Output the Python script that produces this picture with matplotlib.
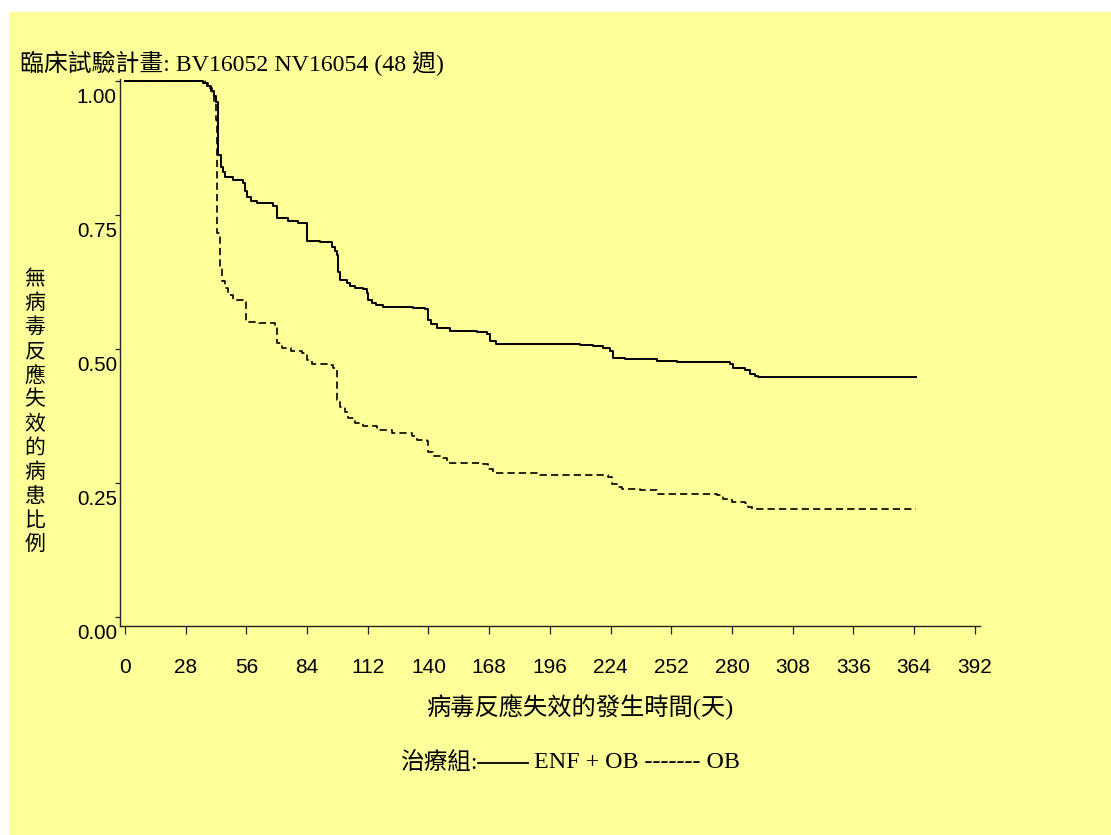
import matplotlib
matplotlib.use('Agg')
import matplotlib.pyplot as plt
from matplotlib.patches import Rectangle
from matplotlib.lines import Line2D
from matplotlib.transforms import blended_transform_factory, ScaledTranslation

# ---------------- data ----------------
title = "臨床試驗計畫: BV16052 NV16054 (48 週)"
ylabel = "無病毒反應失效的病患比例"
xlabel = "病毒反應失效的發生時間(天)"
legend_prefix = "治療組:"
legend_rest = " ENF + OB ------- OB"

x_ticks = [0, 28, 56, 84, 112, 140, 168, 196, 224, 252, 280, 308, 336, 364, 392]
y_ticks = [0.0, 0.25, 0.50, 0.75, 1.00]
y_tick_labels = ["0.00", "0.25", "0.50", "0.75", "1.00"]

enf_t = [0, 36.0, 38.0, 39.5, 41.0, 42.0, 43.0, 44.1, 45.0, 46.1, 50.0, 54.6, 55.5, 56.1,
         58.0, 60.7, 68.4, 70.0, 75.0, 80.0, 84.0, 90.0, 95.5, 96.9, 97.9, 98.4, 99.2,
         102.3, 104.0, 106.1, 109.9, 111.5, 112.2, 113.8, 116.0, 119.2, 133.0, 138.4,
         139.9, 141.0, 143.8, 149.9, 162.2, 166.8, 168.4, 171.0, 209.9, 216.0, 220.6,
         223.7, 225.0, 230.6, 245.3, 254.5, 279.1, 280.6, 286.0, 288.3, 290.5, 292.1, 365]
enf_s = [1.000, 0.996, 0.990, 0.982, 0.972, 0.961, 0.862, 0.840, 0.830, 0.821, 0.815, 0.809,
         0.795, 0.784, 0.777, 0.772, 0.766, 0.744, 0.738, 0.735, 0.702, 0.699, 0.690, 0.682,
         0.675, 0.644, 0.629, 0.623, 0.618, 0.613, 0.611, 0.605, 0.591, 0.586, 0.582, 0.579,
         0.576, 0.574, 0.554, 0.546, 0.539, 0.534, 0.532, 0.528, 0.514, 0.509, 0.507, 0.505,
         0.501, 0.496, 0.484, 0.481, 0.478, 0.476, 0.472, 0.464, 0.460, 0.453, 0.450, 0.447,
         0.447]

ob_t = [0, 36.9, 38.4, 40.0, 41.1, 42.0, 42.3, 43.8, 44.6, 46.1, 47.7, 50.0, 54.6, 55.8,
        62.0, 69.2, 70.0, 72.3, 76.5, 81.5, 83.8, 86.1, 93.0, 96.1, 97.6, 97.9, 99.2, 101.5,
        103.0, 106.1, 109.9, 116.1, 123.0, 132.2, 134.5, 139.2, 139.9, 142.2, 146.8, 148.4,
        165.3, 167.6, 169.9, 190.0, 222.9, 224.5, 226.8, 229.1, 237.5, 245.3, 272.9, 276.0,
        279.9, 286.0, 287.5, 289.1, 365]
ob_s = [1.000, 0.996, 0.986, 0.974, 0.961, 0.927, 0.716, 0.651, 0.626, 0.613, 0.601, 0.591,
        0.588, 0.551, 0.548, 0.545, 0.511, 0.501, 0.497, 0.492, 0.479, 0.472, 0.470, 0.464,
        0.448, 0.405, 0.392, 0.383, 0.371, 0.361, 0.356, 0.349, 0.344, 0.338, 0.331, 0.329,
        0.308, 0.300, 0.296, 0.288, 0.285, 0.277, 0.269, 0.265, 0.262, 0.248, 0.243, 0.239,
        0.236, 0.229, 0.228, 0.221, 0.215, 0.212, 0.206, 0.201, 0.201]

# ---------------- styling ----------------
W, H, DPI = 1111, 835, 100
BG = '#FFFF99'
SERIF_CJK = ['Liberation Serif', 'Noto Sans CJK TC']
CJK = ['Noto Sans CJK TC', 'DejaVu Sans']
SANS = ['Liberation Sans', 'DejaVu Sans']
plt.rcParams['font.family'] = SANS
plt.rcParams['lines.scale_dashes'] = False

fig = plt.figure(figsize=(W / DPI, H / DPI), dpi=DPI)
fig.patch.set_facecolor('white')
fig.patches.append(Rectangle((9 / W, 0), 1 - 9 / W, 1 - 12 / H, transform=fig.transFigure,
                             facecolor=BG, edgecolor='none', zorder=-10))

def px(x, y):
    return x / W, 1 - y / H

ax_l, ax_r, ax_t, ax_b = 120, 980, 79, 626
ax = fig.add_axes([ax_l / W, 1 - ax_b / H, (ax_r - ax_l) / W, (ax_b - ax_t) / H])
ax.set_facecolor('none')

ax.step(enf_t, enf_s, where='post', color='black', lw=1.4)
ax.step(ob_t, ob_s, where='post', color='black', lw=1.2, linestyle=(0, (5.2, 3.0)))

ax.set_xlim(-2.3, 394.4)
ax.set_ylim(-0.0168, 1.0037)
for s in ['top', 'right']:
    ax.spines[s].set_visible(False)
for s in ['left', 'bottom']:
    ax.spines[s].set_color('#222222')
    ax.spines[s].set_linewidth(1.0)

ax.set_xticks(x_ticks)
ax.set_xticklabels([str(v) for v in x_ticks], fontsize=15)
ax.tick_params(axis='x', direction='out', length=5.8, width=0.9, color='#222222', pad=17.5)
ax.set_yticks(y_ticks)
ax.set_yticklabels([])
ax.tick_params(axis='y', direction='out', length=3.6, width=0.9, color='#222222')

ytr = blended_transform_factory(ax.transAxes, ax.transData) + \
    ScaledTranslation(-3 / DPI, -17 / DPI, fig.dpi_scale_trans)
for v, lab in zip(y_ticks, y_tick_labels):
    ax.text(0, v, lab, transform=ytr, ha='right', va='center', fontsize=14.8)

# title
fig.text(*px(20, 63), title, ha='left', va='center', fontsize=17.2, family=SERIF_CJK)

# y label (stacked characters)
n = len(ylabel)
for i, ch in enumerate(ylabel):
    y = 279 + i * (544 - 279) / (n - 1)
    fig.text(*px(35, y), ch, ha='center', va='center', fontsize=15, family=CJK)

# x label
fig.text(*px(580, 707), xlabel, ha='center', va='center', fontsize=17.5, family=SERIF_CJK)

# legend line
fig.text(*px(477, 763), legend_prefix, ha='right', va='center', fontsize=17, family=SERIF_CJK)
fig.lines.append(Line2D([478 / W, 528 / W], [1 - 763 / H, 1 - 763 / H], transform=fig.transFigure,
                        color='black', lw=1.3))
fig.text(*px(528, 763), legend_rest, ha='left', va='center', fontsize=17.3, family=SERIF_CJK)

fig.savefig('out.png', dpi=DPI, facecolor=fig.get_facecolor())
